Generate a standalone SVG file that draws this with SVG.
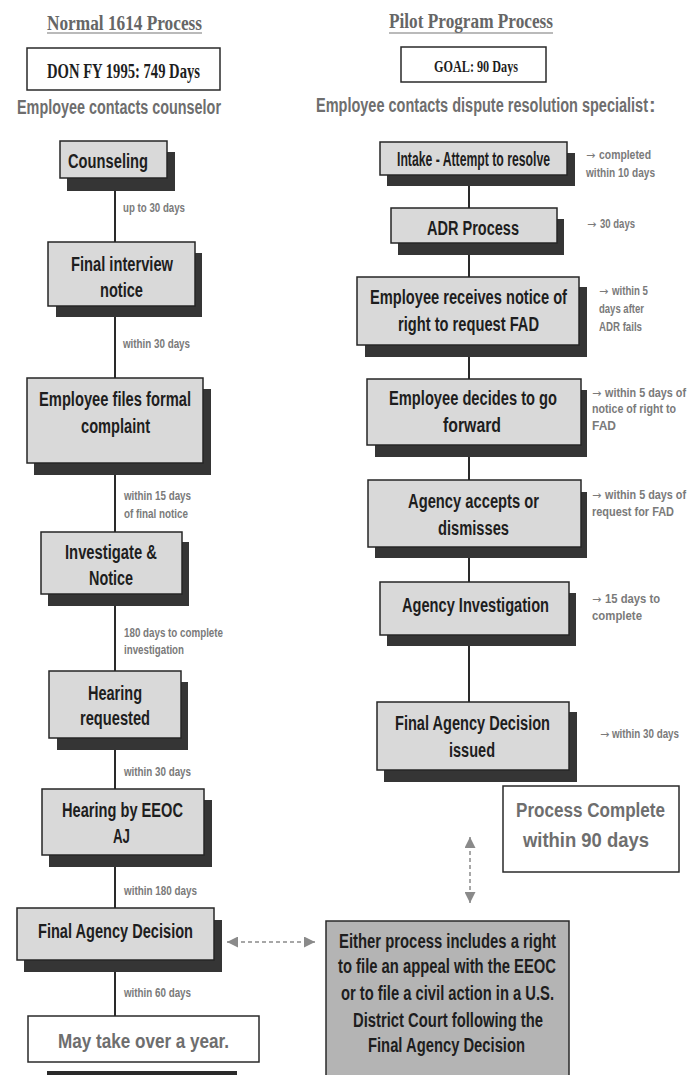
<svg xmlns="http://www.w3.org/2000/svg" width="688" height="1075" viewBox="0 0 688 1075">
<style>
.box{fill:#d9d9d9;stroke:#262626;stroke-width:1.5}
.wbox{fill:#ffffff;stroke:#2a2a2a;stroke-width:1.5}
.gbox{fill:#b4b4b4;stroke:#2a2a2a;stroke-width:1.5}
.sh{fill:#353535}
.bt{font-family:"Liberation Sans Narrow","Liberation Sans",Arial,sans-serif;font-weight:bold;fill:#1e1e1e;font-size:20px}
.gt{font-family:"Liberation Sans Narrow","Liberation Sans",Arial,sans-serif;font-weight:bold;fill:#6e6e6e;font-size:20px}
.lbl{font-family:"Liberation Sans Narrow","Liberation Sans",Arial,sans-serif;font-weight:bold;fill:#7a7a7a;font-size:12.5px}
.ar{font-family:"DejaVu Sans",sans-serif;fill:#7a7a7a;font-size:11px}
.hd{font-family:"Liberation Serif","Times New Roman",serif;font-weight:bold;fill:#666666;font-size:20px}
.hb{font-family:"Liberation Serif","Times New Roman",serif;font-weight:bold;fill:#1e1e1e}
.conn{stroke:#2a2a2a;stroke-width:2;fill:none}
.dash{stroke:#8a8a8a;stroke-width:1.5;stroke-dasharray:4 3;fill:none}
</style>
<defs>
<marker id="ah" viewBox="0 0 10 10" refX="10" refY="5" markerWidth="11" markerHeight="11" markerUnits="userSpaceOnUse" orient="auto-start-reverse"><path d="M0,0 L10,5 L0,10 z" fill="#8a8a8a"/></marker>
</defs>
<rect width="688" height="1075" fill="#ffffff"/>

<g id="headers">
<text class="hd" x="47" y="30" textLength="155" lengthAdjust="spacingAndGlyphs">Normal 1614 Process</text>
<line x1="47" y1="33" x2="202" y2="33" stroke="#777" stroke-width="1.2"/>
<rect class="wbox" x="27" y="48" width="193" height="42"/>
<text class="hb" x="47" y="78" font-size="21" textLength="153" lengthAdjust="spacingAndGlyphs">DON FY 1995: 749 Days</text>
<text class="gt" x="17" y="114" font-size="19" textLength="204" lengthAdjust="spacingAndGlyphs">Employee contacts counselor</text>
<text class="hd" x="389" y="28" textLength="164" lengthAdjust="spacingAndGlyphs">Pilot Program Process</text>
<line x1="389" y1="33" x2="553" y2="33" stroke="#777" stroke-width="1.2"/>
<rect class="wbox" x="401" y="47" width="145" height="35"/>
<text class="hb" x="434" y="72" font-size="16" textLength="84" lengthAdjust="spacingAndGlyphs">GOAL: 90 Days</text>
<text class="gt" x="316" y="112" font-size="19" textLength="332" lengthAdjust="spacingAndGlyphs">Employee contacts dispute resolution specialist</text>
<text class="gt" x="649" y="112" font-size="19" fill="#c8c8c8">:</text>
</g>

<g id="connectors">
<line class="conn" x1="115" y1="191" x2="115" y2="242"/>
<line class="conn" x1="115" y1="317" x2="115" y2="378"/>
<line class="conn" x1="115" y1="475" x2="115" y2="532"/>
<line class="conn" x1="115" y1="606" x2="115" y2="671"/>
<line class="conn" x1="115" y1="750" x2="115" y2="789"/>
<line class="conn" x1="115" y1="867" x2="115" y2="908"/>
<line class="conn" x1="115" y1="972" x2="115" y2="1016"/>
<line class="conn" x1="469" y1="186" x2="469" y2="208"/>
<line class="conn" x1="469" y1="255" x2="469" y2="277"/>
<line class="conn" x1="469" y1="357" x2="469" y2="379"/>
<line class="conn" x1="469" y1="457" x2="469" y2="480"/>
<line class="conn" x1="469" y1="558" x2="469" y2="582"/>
<line class="conn" x1="469" y1="646" x2="469" y2="702"/>
<line class="dash" x1="227" y1="942" x2="315" y2="942" marker-start="url(#ah)" marker-end="url(#ah)"/>
<line class="dash" x1="470" y1="837" x2="470" y2="903" marker-start="url(#ah)" marker-end="url(#ah)"/>
</g>

<g id="left-labels">
<text class="lbl" x="123" y="212" textLength="62" lengthAdjust="spacingAndGlyphs">up to 30 days</text>
<text class="lbl" x="123" y="348" textLength="67" lengthAdjust="spacingAndGlyphs">within 30 days</text>
<text class="lbl" x="124" y="500" textLength="67" lengthAdjust="spacingAndGlyphs">within 15 days</text>
<text class="lbl" x="124" y="518" textLength="64" lengthAdjust="spacingAndGlyphs">of final notice</text>
<text class="lbl" x="124" y="637" textLength="99" lengthAdjust="spacingAndGlyphs">180 days to complete</text>
<text class="lbl" x="124" y="654" textLength="60" lengthAdjust="spacingAndGlyphs">investigation</text>
<text class="lbl" x="124" y="776" textLength="67" lengthAdjust="spacingAndGlyphs">within 30 days</text>
<text class="lbl" x="124" y="895" textLength="73" lengthAdjust="spacingAndGlyphs">within 180 days</text>
<text class="lbl" x="124" y="997" textLength="67" lengthAdjust="spacingAndGlyphs">within 60 days</text>
</g>

<g id="right-labels">
<text class="ar" x="586" y="159">→</text>
<text class="lbl" x="599" y="159" textLength="52" lengthAdjust="spacingAndGlyphs">completed</text>
<text class="lbl" x="586" y="177" textLength="69" lengthAdjust="spacingAndGlyphs">within 10 days</text>
<text class="ar" x="587" y="228">→</text>
<text class="lbl" x="600" y="228" textLength="35" lengthAdjust="spacingAndGlyphs">30 days</text>
<text class="ar" x="599" y="295">→</text>
<text class="lbl" x="612" y="295" textLength="36" lengthAdjust="spacingAndGlyphs">within 5</text>
<text class="lbl" x="599" y="313" textLength="45" lengthAdjust="spacingAndGlyphs">days after</text>
<text class="lbl" x="599" y="331" textLength="43" lengthAdjust="spacingAndGlyphs">ADR fails</text>
<text class="ar" x="592" y="397">→</text>
<text class="lbl" x="605" y="397" textLength="81" lengthAdjust="spacingAndGlyphs">within 5 days of</text>
<text class="lbl" x="592" y="413" textLength="84" lengthAdjust="spacingAndGlyphs">notice of right to</text>
<text class="lbl" x="592" y="430" textLength="24" lengthAdjust="spacingAndGlyphs">FAD</text>
<text class="ar" x="592" y="499">→</text>
<text class="lbl" x="605" y="499" textLength="81" lengthAdjust="spacingAndGlyphs">within 5 days of</text>
<text class="lbl" x="592" y="516" textLength="82" lengthAdjust="spacingAndGlyphs">request for FAD</text>
<text class="ar" x="592" y="603">→</text>
<text class="lbl" x="605" y="603" textLength="55" lengthAdjust="spacingAndGlyphs">15 days to</text>
<text class="lbl" x="592" y="620" textLength="50" lengthAdjust="spacingAndGlyphs">complete</text>
<text class="ar" x="600" y="738" font-size="10.5">→</text>
<text class="lbl" x="612" y="738" font-size="11.5" textLength="67" lengthAdjust="spacingAndGlyphs">within 30 days</text>
</g>

<g id="n-counseling">
<rect class="sh" x="67" y="152" width="108" height="39"/>
<rect class="box" x="60" y="141" width="107" height="37"/>
<text class="bt" x="68" y="168" textLength="80" lengthAdjust="spacingAndGlyphs">Counseling</text>
</g>
<g id="n-final-interview">
<rect class="sh" x="56" y="253" width="146" height="64"/>
<rect class="box" x="48" y="242" width="147" height="64"/>
<text class="bt" x="71" y="271" textLength="102" lengthAdjust="spacingAndGlyphs">Final interview</text>
<text class="bt" x="100" y="297" textLength="43" lengthAdjust="spacingAndGlyphs">notice</text>
</g>
<g id="n-formal-complaint">
<rect class="sh" x="34" y="389" width="177" height="86"/>
<rect class="box" x="27" y="378" width="176" height="85"/>
<text class="bt" x="39" y="406" textLength="152" lengthAdjust="spacingAndGlyphs">Employee files formal</text>
<text class="bt" x="81" y="433" textLength="69" lengthAdjust="spacingAndGlyphs">complaint</text>
</g>
<g id="n-investigate">
<rect class="sh" x="48" y="542" width="141" height="64"/>
<rect class="box" x="41" y="532" width="141" height="62"/>
<text class="bt" x="65" y="559" textLength="92" lengthAdjust="spacingAndGlyphs">Investigate &amp;</text>
<text class="bt" x="89" y="585" textLength="44" lengthAdjust="spacingAndGlyphs">Notice</text>
</g>
<g id="n-hearing-requested">
<rect class="sh" x="57" y="682" width="131" height="68"/>
<rect class="box" x="49" y="671" width="132" height="67"/>
<text class="bt" x="88" y="700" textLength="54" lengthAdjust="spacingAndGlyphs">Hearing</text>
<text class="bt" x="80" y="725" textLength="70" lengthAdjust="spacingAndGlyphs">requested</text>
</g>
<g id="n-hearing-eeoc">
<rect class="sh" x="49" y="800" width="163" height="67"/>
<rect class="box" x="42" y="789" width="162" height="66"/>
<text class="bt" x="62" y="817" textLength="121" lengthAdjust="spacingAndGlyphs">Hearing by EEOC</text>
<text class="bt" x="113" y="843" textLength="17" lengthAdjust="spacingAndGlyphs">AJ</text>
</g>
<g id="n-final-agency-decision">
<rect class="sh" x="24" y="920" width="198" height="52"/>
<rect class="box" x="17" y="908" width="197" height="52"/>
<text class="bt" x="38" y="938" textLength="155" lengthAdjust="spacingAndGlyphs">Final Agency Decision</text>
</g>
<g id="n-over-a-year">
<rect class="wbox" x="28" y="1016" width="231" height="46"/>
<text class="gt" x="58" y="1048" font-size="21" textLength="171" lengthAdjust="spacingAndGlyphs">May take over a year.</text>
<rect x="47" y="1071" width="190" height="4" fill="#2a2a2a"/>
</g>

<g id="n-intake">
<rect class="sh" x="387" y="153" width="188" height="33"/>
<rect class="box" x="380" y="142" width="187" height="33"/>
<text class="bt" x="397" y="166" font-size="15.5" textLength="153" lengthAdjust="spacingAndGlyphs">Intake - Attempt to resolve</text>
</g>
<g id="n-adr">
<rect class="sh" x="398" y="219" width="166" height="36"/>
<rect class="box" x="391" y="208" width="166" height="35"/>
<text class="bt" x="427" y="235" font-size="18" textLength="92" lengthAdjust="spacingAndGlyphs">ADR Process</text>
</g>
<g id="n-receives-notice">
<rect class="sh" x="365" y="287" width="222" height="70"/>
<rect class="box" x="357" y="277" width="222" height="68"/>
<text class="bt" x="370" y="304" font-size="21" textLength="197" lengthAdjust="spacingAndGlyphs">Employee receives notice of</text>
<text class="bt" x="398" y="331" font-size="21" textLength="141" lengthAdjust="spacingAndGlyphs">right to request FAD</text>
</g>
<g id="n-decides">
<rect class="sh" x="375" y="390" width="212" height="67"/>
<rect class="box" x="367" y="379" width="214" height="66"/>
<text class="bt" x="389" y="405" font-size="21" textLength="168" lengthAdjust="spacingAndGlyphs">Employee decides to go</text>
<text class="bt" x="443" y="432" font-size="21" textLength="58" lengthAdjust="spacingAndGlyphs">forward</text>
</g>
<g id="n-accepts">
<rect class="sh" x="375" y="492" width="212" height="66"/>
<rect class="box" x="368" y="480" width="213" height="67"/>
<text class="bt" x="408" y="508" font-size="21" textLength="131" lengthAdjust="spacingAndGlyphs">Agency accepts or</text>
<text class="bt" x="438" y="535" font-size="21" textLength="71" lengthAdjust="spacingAndGlyphs">dismisses</text>
</g>
<g id="n-agency-investigation">
<rect class="sh" x="387" y="593" width="189" height="53"/>
<rect class="box" x="380" y="582" width="189" height="53"/>
<text class="bt" x="402" y="612" font-size="20" textLength="147" lengthAdjust="spacingAndGlyphs">Agency Investigation</text>
</g>
<g id="n-fad-issued">
<rect class="sh" x="384" y="712" width="193" height="70"/>
<rect class="box" x="377" y="702" width="192" height="68"/>
<text class="bt" x="395" y="730" font-size="20" textLength="155" lengthAdjust="spacingAndGlyphs">Final Agency Decision</text>
<text class="bt" x="449" y="757" font-size="20" textLength="46" lengthAdjust="spacingAndGlyphs">issued</text>
</g>
<g id="n-process-complete">
<rect class="wbox" x="503" y="786" width="176" height="86"/>
<text class="gt" x="516" y="817" font-size="20" fill="#7a7a7a" textLength="149" lengthAdjust="spacingAndGlyphs">Process Complete</text>
<text class="gt" x="523" y="847" font-size="20" fill="#7a7a7a" textLength="126" lengthAdjust="spacingAndGlyphs">within 90 days</text>
</g>
<g id="n-either">
<rect class="gbox" x="326" y="921" width="243" height="170"/>
<text class="bt" x="339" y="948" font-size="18.5" textLength="217" lengthAdjust="spacingAndGlyphs">Either process includes a right</text>
<text class="bt" x="338" y="973" font-size="18.5" textLength="218" lengthAdjust="spacingAndGlyphs">to file an appeal with the EEOC</text>
<text class="bt" x="341" y="1000" font-size="18.5" textLength="213" lengthAdjust="spacingAndGlyphs">or to file a civil action in a U.S.</text>
<text class="bt" x="353" y="1027" font-size="18.5" textLength="190" lengthAdjust="spacingAndGlyphs">District Court following the</text>
<text class="bt" x="368" y="1052" font-size="18.5" textLength="157" lengthAdjust="spacingAndGlyphs">Final Agency Decision</text>
</g>
</svg>
